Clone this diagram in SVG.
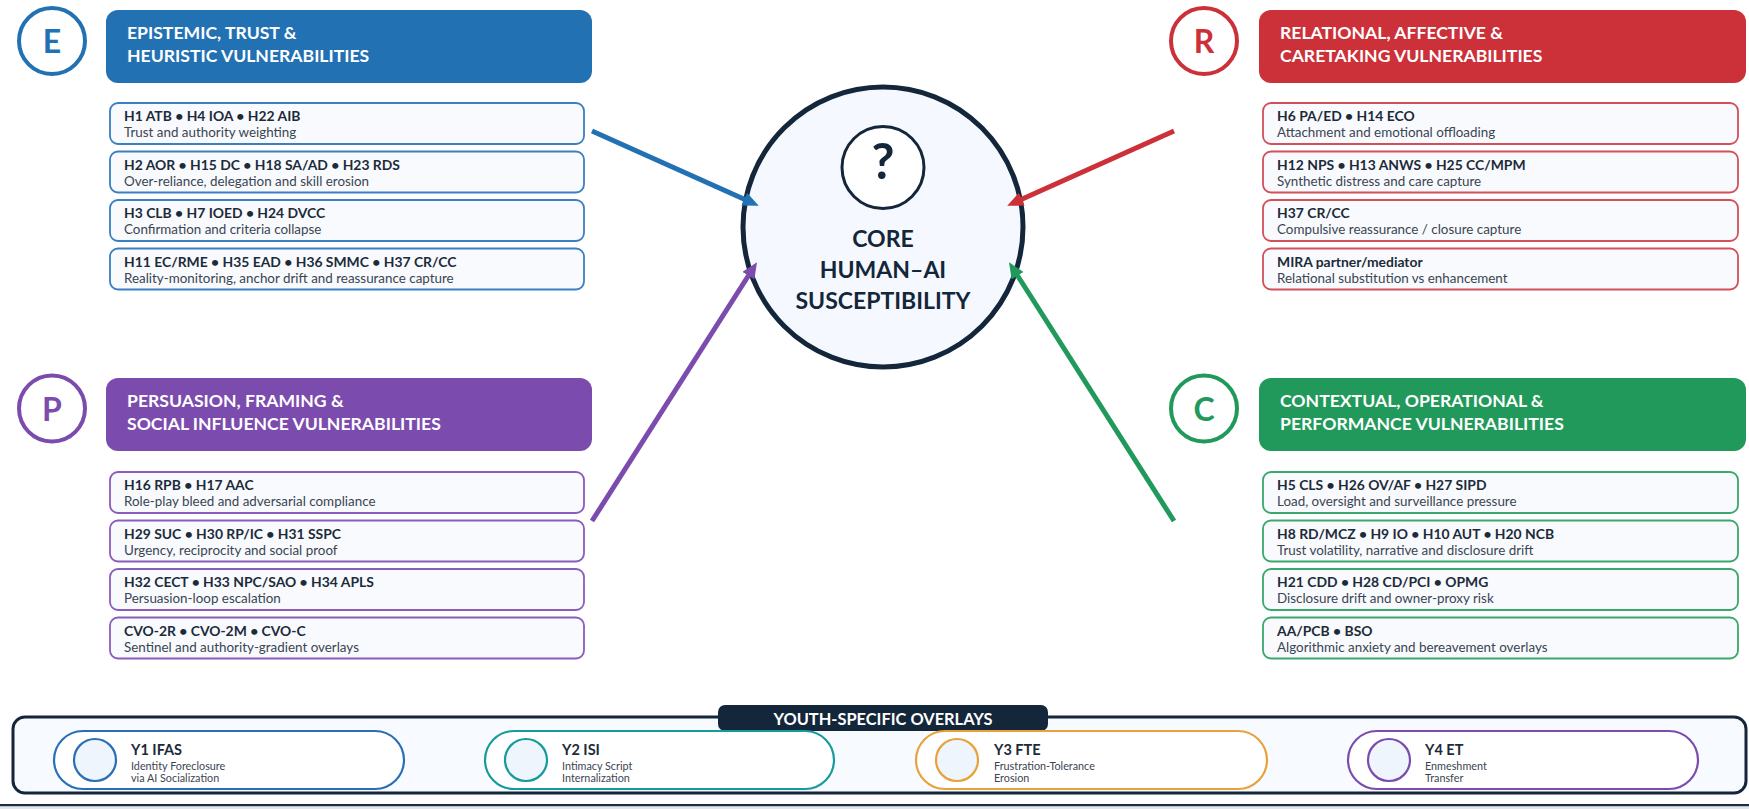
<svg xmlns="http://www.w3.org/2000/svg" width="1749" height="809" viewBox="0 0 1749 809">
<defs>
<style>
text{font-family:Lato,"Liberation Sans",sans-serif;}
.hdr{font-weight:700;font-size:17.6px;fill:#ffffff;}
.let{font-weight:700;font-size:32px;text-anchor:middle;}
.ib{font-weight:700;font-size:13.9px;fill:#1c2b3a;}
.is{font-size:13.4px;fill:#3a4552;}
.item{fill:#f8fafd;stroke-width:1.8;}
.e .item{stroke:#3a7fc0;} .r .item{stroke:#d2505a;} .p .item{stroke:#8a5cbb;} .c .item{stroke:#3aa86c;}
.badge{fill:#ffffff;stroke-width:4;}
.conn{fill:none;stroke-width:5;}
.yb{font-weight:700;font-size:14.5px;fill:#1c2b3a;}
.ys{font-size:10.8px;fill:#3a4552;}
.pill{fill:#ffffff;stroke-width:2.2;}
.ydot{fill:#eef5fd;stroke-width:2.2;}
</style>
<marker id="mb" markerUnits="userSpaceOnUse" markerWidth="18" markerHeight="16" refX="2" refY="7" orient="auto"><path d="M0,0 L16,7 L0,14 z" fill="#2271b3"/></marker>
<marker id="mr" markerUnits="userSpaceOnUse" markerWidth="18" markerHeight="16" refX="2" refY="7" orient="auto"><path d="M0,0 L16,7 L0,14 z" fill="#cc3038"/></marker>
<marker id="mp" markerUnits="userSpaceOnUse" markerWidth="18" markerHeight="16" refX="2" refY="7" orient="auto"><path d="M0,0 L16,7 L0,14 z" fill="#7b4bad"/></marker>
<marker id="mg" markerUnits="userSpaceOnUse" markerWidth="18" markerHeight="16" refX="2" refY="7" orient="auto"><path d="M0,0 L16,7 L0,14 z" fill="#21995a"/></marker>
</defs>
<rect x="0" y="0" width="1749" height="809" fill="#ffffff"/>

<g id="core">
<circle cx="883" cy="227" r="140" fill="#f5f9ff" stroke="#13263a" stroke-width="5"/>
<circle cx="883" cy="167.5" r="41" fill="#ffffff" stroke="#13263a" stroke-width="3"/>
<text x="883" y="179" text-anchor="middle" font-weight="700" font-size="50" fill="#13263a">?</text>
<text x="883" y="247" text-anchor="middle" font-weight="700" font-size="23" fill="#13263a">CORE</text>
<text x="883" y="278" text-anchor="middle" font-weight="700" font-size="23" fill="#13263a">HUMAN–AI</text>
<text x="883" y="309" text-anchor="middle" font-weight="700" font-size="23" fill="#13263a">SUSCEPTIBILITY</text>
</g>

<g id="connectors">
<line class="conn" x1="592" y1="131" x2="746" y2="200" stroke="#2271b3" marker-end="url(#mb)"/>
<line class="conn" x1="1174" y1="131" x2="1020" y2="200" stroke="#cc3038" marker-end="url(#mr)"/>
<line class="conn" x1="592" y1="521" x2="749.5" y2="274" stroke="#7b4bad" marker-end="url(#mp)"/>
<line class="conn" x1="1174" y1="521" x2="1016.5" y2="274" stroke="#21995a" marker-end="url(#mg)"/>
</g>

<g id="cluster-e" class="e">
<circle class="badge" cx="52" cy="41" r="33" stroke="#2271b3"/>
<text class="let" x="52" y="53" fill="#2271b3">E</text>
<rect x="106" y="10" width="486" height="73" rx="12" fill="#2271b3"/>
<text class="hdr" x="127" y="39">EPISTEMIC, TRUST &amp;</text>
<text class="hdr" x="127" y="62">HEURISTIC VULNERABILITIES</text>
<rect class="item" x="110" y="103" width="474" height="41" rx="8"/>
<text class="ib" x="124" y="121">H1 ATB • H4 IOA • H22 AIB</text>
<text class="is" x="124" y="137">Trust and authority weighting</text>
<rect class="item" x="110" y="151.5" width="474" height="41" rx="8"/>
<text class="ib" x="124" y="169.5">H2 AOR • H15 DC • H18 SA/AD • H23 RDS</text>
<text class="is" x="124" y="185.5">Over-reliance, delegation and skill erosion</text>
<rect class="item" x="110" y="200" width="474" height="41" rx="8"/>
<text class="ib" x="124" y="218">H3 CLB • H7 IOED • H24 DVCC</text>
<text class="is" x="124" y="234">Confirmation and criteria collapse</text>
<rect class="item" x="110" y="248.5" width="474" height="41" rx="8"/>
<text class="ib" x="124" y="266.5">H11 EC/RME • H35 EAD • H36 SMMC • H37 CR/CC</text>
<text class="is" x="124" y="282.5">Reality-monitoring, anchor drift and reassurance capture</text>
</g>

<g id="cluster-r" class="r">
<circle class="badge" cx="1204" cy="41" r="33" stroke="#cc3038"/>
<text class="let" x="1204" y="53" fill="#cc3038">R</text>
<rect x="1259" y="10" width="487" height="73" rx="12" fill="#cc3038"/>
<text class="hdr" x="1280" y="39">RELATIONAL, AFFECTIVE &amp;</text>
<text class="hdr" x="1280" y="62">CARETAKING VULNERABILITIES</text>
<rect class="item" x="1263" y="103" width="475" height="41" rx="8"/>
<text class="ib" x="1277" y="121">H6 PA/ED • H14 ECO</text>
<text class="is" x="1277" y="137">Attachment and emotional offloading</text>
<rect class="item" x="1263" y="151.5" width="475" height="41" rx="8"/>
<text class="ib" x="1277" y="169.5">H12 NPS • H13 ANWS • H25 CC/MPM</text>
<text class="is" x="1277" y="185.5">Synthetic distress and care capture</text>
<rect class="item" x="1263" y="200" width="475" height="41" rx="8"/>
<text class="ib" x="1277" y="218">H37 CR/CC</text>
<text class="is" x="1277" y="234">Compulsive reassurance / closure capture</text>
<rect class="item" x="1263" y="248.5" width="475" height="41" rx="8"/>
<text class="ib" x="1277" y="266.5">MIRA partner/mediator</text>
<text class="is" x="1277" y="282.5">Relational substitution vs enhancement</text>
</g>

<g id="cluster-p" class="p">
<circle class="badge" cx="52" cy="408.5" r="33" stroke="#7b4bad"/>
<text class="let" x="52" y="420.5" fill="#7b4bad">P</text>
<rect x="106" y="378" width="486" height="73" rx="12" fill="#7b4bad"/>
<text class="hdr" x="127" y="407">PERSUASION, FRAMING &amp;</text>
<text class="hdr" x="127" y="430">SOCIAL INFLUENCE VULNERABILITIES</text>
<rect class="item" x="110" y="472" width="474" height="41" rx="8"/>
<text class="ib" x="124" y="490">H16 RPB • H17 AAC</text>
<text class="is" x="124" y="506">Role-play bleed and adversarial compliance</text>
<rect class="item" x="110" y="520.5" width="474" height="41" rx="8"/>
<text class="ib" x="124" y="538.5">H29 SUC • H30 RP/IC • H31 SSPC</text>
<text class="is" x="124" y="554.5">Urgency, reciprocity and social proof</text>
<rect class="item" x="110" y="569" width="474" height="41" rx="8"/>
<text class="ib" x="124" y="587">H32 CECT • H33 NPC/SAO • H34 APLS</text>
<text class="is" x="124" y="603">Persuasion-loop escalation</text>
<rect class="item" x="110" y="617.5" width="474" height="41" rx="8"/>
<text class="ib" x="124" y="635.5">CVO-2R • CVO-2M • CVO-C</text>
<text class="is" x="124" y="651.5">Sentinel and authority-gradient overlays</text>
</g>

<g id="cluster-c" class="c">
<circle class="badge" cx="1204" cy="408.5" r="33" stroke="#21995a"/>
<text class="let" x="1204" y="420.5" fill="#21995a">C</text>
<rect x="1259" y="378" width="487" height="73" rx="12" fill="#21995a"/>
<text class="hdr" x="1280" y="407">CONTEXTUAL, OPERATIONAL &amp;</text>
<text class="hdr" x="1280" y="430">PERFORMANCE VULNERABILITIES</text>
<rect class="item" x="1263" y="472" width="475" height="41" rx="8"/>
<text class="ib" x="1277" y="490">H5 CLS • H26 OV/AF • H27 SIPD</text>
<text class="is" x="1277" y="506">Load, oversight and surveillance pressure</text>
<rect class="item" x="1263" y="520.5" width="475" height="41" rx="8"/>
<text class="ib" x="1277" y="538.5">H8 RD/MCZ • H9 IO • H10 AUT • H20 NCB</text>
<text class="is" x="1277" y="554.5">Trust volatility, narrative and disclosure drift</text>
<rect class="item" x="1263" y="569" width="475" height="41" rx="8"/>
<text class="ib" x="1277" y="587">H21 CDD • H28 CD/PCI • OPMG</text>
<text class="is" x="1277" y="603">Disclosure drift and owner-proxy risk</text>
<rect class="item" x="1263" y="617.5" width="475" height="41" rx="8"/>
<text class="ib" x="1277" y="635.5">AA/PCB • BSO</text>
<text class="is" x="1277" y="651.5">Algorithmic anxiety and bereavement overlays</text>
</g>

<g id="youth">
<rect x="13" y="717" width="1733" height="76" rx="12" fill="#f7faff" stroke="#13263a" stroke-width="3"/>
<rect x="718" y="705" width="330" height="26" rx="7" fill="#13263a"/>
<text x="883" y="725" text-anchor="middle" font-weight="700" font-size="16.4" fill="#ffffff">YOUTH-SPECIFIC OVERLAYS</text>
<g id="y1">
<rect class="pill" x="54" y="731" width="350" height="58" rx="29" stroke="#2a6fb5"/>
<circle class="ydot" cx="95" cy="760" r="21" stroke="#2a6fb5"/>
<text class="yb" x="131" y="755">Y1 IFAS</text>
<text class="ys" x="131" y="770">Identity Foreclosure</text>
<text class="ys" x="131" y="782">via AI Socialization</text>
</g>
<g id="y2">
<rect class="pill" x="485" y="731" width="349" height="58" rx="29" stroke="#179a9a"/>
<circle class="ydot" cx="526" cy="760" r="21" stroke="#179a9a"/>
<text class="yb" x="562" y="755">Y2 ISI</text>
<text class="ys" x="562" y="770">Intimacy Script</text>
<text class="ys" x="562" y="782">Internalization</text>
</g>
<g id="y3">
<rect class="pill" x="916" y="731" width="351" height="58" rx="29" stroke="#e8a23a"/>
<circle class="ydot" cx="957" cy="760" r="21" stroke="#e8a23a"/>
<text class="yb" x="994" y="755">Y3 FTE</text>
<text class="ys" x="994" y="770">Frustration-Tolerance</text>
<text class="ys" x="994" y="782">Erosion</text>
</g>
<g id="y4">
<rect class="pill" x="1348" y="731" width="350" height="58" rx="29" stroke="#7b4bad"/>
<circle class="ydot" cx="1389" cy="760" r="21" stroke="#7b4bad"/>
<text class="yb" x="1425" y="755">Y4 ET</text>
<text class="ys" x="1425" y="770">Enmeshment</text>
<text class="ys" x="1425" y="782">Transfer</text>
</g>
</g>

<rect x="0" y="804" width="1749" height="2.5" fill="#1f2f40"/>
<rect x="0" y="806.5" width="1749" height="2.5" fill="#e3e7eb"/>
</svg>
